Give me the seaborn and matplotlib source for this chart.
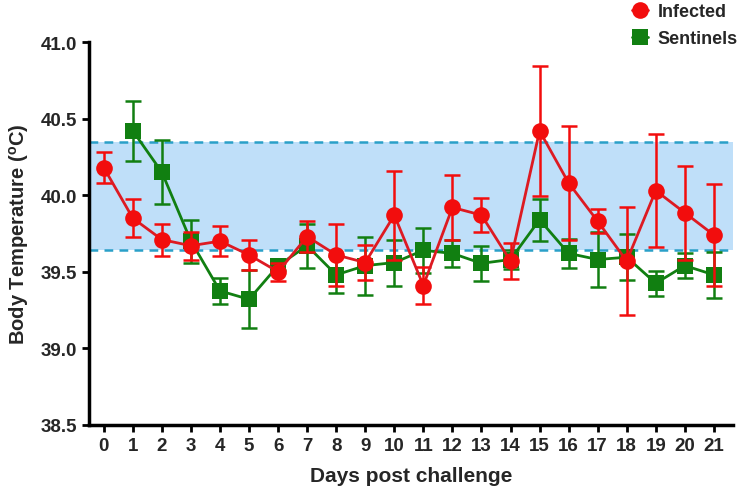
import numpy as np
import pandas as pd
import matplotlib
matplotlib.use("Agg")
import matplotlib.pyplot as plt
import seaborn as sns

days = list(range(22))
infected_mean = [40.18, 39.85, 39.71, 39.67, 39.70, 39.61, 39.50, 39.73, 39.61, 39.56, 39.87,
                 39.41, 39.92, 39.87, 39.57, 40.42, 40.08, 39.83, 39.57, 40.03, 39.885, 39.74]
infected_err = [0.10, 0.125, 0.105, 0.09, 0.10, 0.10, 0.06, 0.10, 0.205, 0.115, 0.29,
                0.12, 0.21, 0.11, 0.117, 0.425, 0.375, 0.08, 0.35, 0.37, 0.305, 0.33]
sentinel_days = list(range(1, 22))
sentinel_mean = [40.42, 40.15, 39.70, 39.375, 39.32, 39.54, 39.67, 39.48, 39.54, 39.56,
                 39.64, 39.62, 39.555, 39.58, 39.84, 39.62, 39.58, 39.595, 39.425, 39.54, 39.48]
sentinel_err = [0.195, 0.21, 0.14, 0.087, 0.19, 0.03, 0.145, 0.12, 0.19, 0.15,
                0.145, 0.09, 0.115, 0.06, 0.137, 0.095, 0.178, 0.15, 0.083, 0.08, 0.15]
band_low, band_high = 39.64, 40.35
y_ticks = [38.5, 39.0, 39.5, 40.0, 40.5, 41.0]

RED = "#f20d0d"
RED_LINE = "#dd1a22"
GREEN = "#117f11"

sns.set_theme(style="white")
plt.rcParams["font.family"] = ["Liberation Sans", "DejaVu Sans"]
plt.rcParams["mathtext.fontset"] = "custom"
plt.rcParams["mathtext.rm"] = "Liberation Sans:bold"
plt.rcParams["mathtext.bf"] = "Liberation Sans:bold"

fig = plt.figure(figsize=(7.5, 4.89), dpi=100)
ax = fig.add_axes([0.119, 0.129, 0.858, 0.783])

# reference band
ax.axhspan(band_low, band_high, color="#bfdff9", zorder=0, lw=0)
for yv in (band_low, band_high):
    ax.axhline(yv, color="#2aa0c8", lw=1.8, ls=(0, (3.5, 2.5)), zorder=1)

df_s = pd.DataFrame({"day": sentinel_days, "temp": sentinel_mean})
df_i = pd.DataFrame({"day": days, "temp": infected_mean})

ax.errorbar(sentinel_days, sentinel_mean, yerr=sentinel_err, fmt="none", ecolor=GREEN,
            elinewidth=1.8, capsize=5.5, capthick=1.8, zorder=2)
sns.lineplot(data=df_s, x="day", y="temp", ax=ax, color=GREEN, lw=2, marker="s",
             markersize=11, markeredgewidth=0, markerfacecolor=GREEN, zorder=3, label="Sentinels")

ax.errorbar(days, infected_mean, yerr=infected_err, fmt="none", ecolor=RED,
            elinewidth=1.8, capsize=5.5, capthick=1.8, zorder=4)
sns.lineplot(data=df_i, x="day", y="temp", ax=ax, color=RED_LINE, lw=2, marker="o",
             markersize=12, markeredgewidth=0, markerfacecolor=RED, zorder=5, label="Infected")

ax.set_xlim(-0.5, 21.65)
ax.set_ylim(38.5, 41.0)
ax.set_xticks(days)
ax.set_xticklabels([str(d) for d in days])
ax.set_yticks(y_ticks)
ax.set_yticklabels([f"{v:.1f}" for v in y_ticks])

for side in ("top", "right"):
    ax.spines[side].set_visible(False)
for side in ("left", "bottom"):
    ax.spines[side].set_linewidth(2.5)
    ax.spines[side].set_color("black")

ax.tick_params(axis="both", which="major", direction="out", length=5, width=2,
               color="black", labelsize=13.5, pad=4, bottom=True, left=True)
for lbl in ax.get_xticklabels() + ax.get_yticklabels():
    lbl.set_fontweight("bold")

ax.set_xlabel("Days post challenge", fontsize=15, fontweight="bold", labelpad=8)
ax.set_ylabel(r"Body Temperature ($^{\mathrm{o}}$C)", fontsize=14.5, fontweight="bold", labelpad=7)

ax.legend_.remove()
handles, labels = ax.get_legend_handles_labels()
order = [labels.index("Infected"), labels.index("Sentinels")]
fig.legend([handles[i] for i in order], [labels[i] for i in order],
           loc="upper right", bbox_to_anchor=(1.005, 1.025), frameon=False,
           handlelength=0.9, handletextpad=0.5, labelspacing=0.55,
           prop={"weight": "bold", "size": 13})

fig.savefig("out.png", dpi=100)
